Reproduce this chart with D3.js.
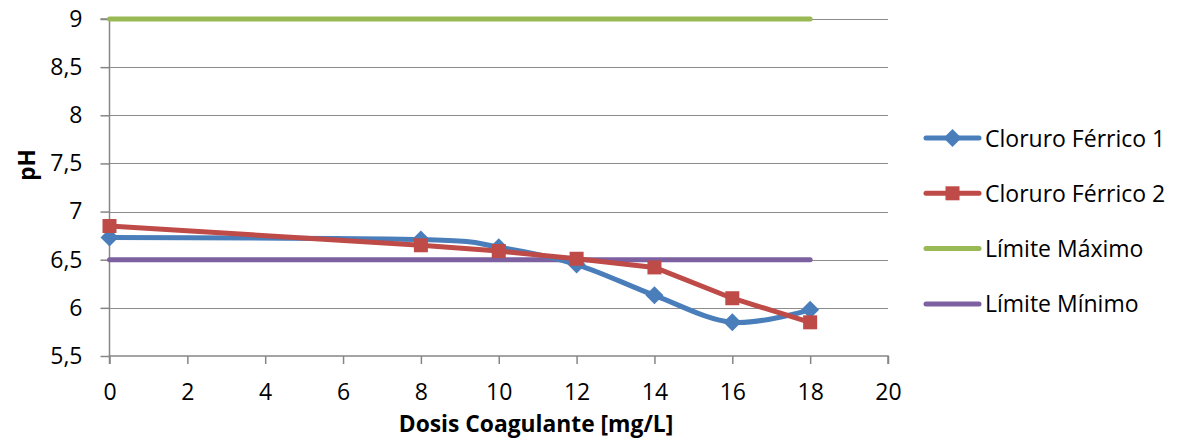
<!DOCTYPE html>
<html><head><meta charset="utf-8">
<script src="https://d3js.org/d3.v7.min.js"></script>
<style>body{margin:0;background:#fff}svg{display:block}text{font-family:"Open Sans",sans-serif;fill:#000}</style>
</head><body><svg id="c" width="1178" height="438"></svg>
<script>
const xTicks = [0,2,4,6,8,10,12,14,16,18,20];
const yTicks = [5.5,6,6.5,7,7.5,8,8.5,9];
const doses = [0,8,10,12,14,16,18];
const cloruro1 = [6.73,6.71,6.63,6.45,6.13,5.85,5.98];
const cloruro2 = [6.85,6.65,6.59,6.51,6.42,6.10,5.85];
const limMax = [9,9];
const limMin = [6.5,6.5];
const limX = [0,18];
const seriesNames = ["Cloruro Férrico 1","Cloruro Férrico 2","Límite Máximo","Límite Mínimo"];
const colors = ["#4a7ebb","#be4b48","#98b954","#7d60a0"];

const svg = d3.select("#c");
const x = d3.scaleLinear().domain([0,20]).range([109.5,888]);
const y = d3.scaleLinear().domain([5.5,9]).range([356,19]);
const fmt = d => String(d).replace(".",",");

// gridlines
svg.append("g").selectAll("line").data(yTicks.slice(1)).join("line")
  .attr("x1",x(0)).attr("x2",x(20)).attr("y1",d=>Math.round(y(d))+0.5).attr("y2",d=>Math.round(y(d))+0.5)
  .attr("stroke","#8c8c8c").attr("stroke-width",1.2);

// y axis
const ya = svg.append("g").attr("transform",`translate(${x(0)},0)`)
  .call(d3.axisLeft(y).tickValues(yTicks).tickFormat(fmt).tickSize(9).tickPadding(18));
// x axis
const xa = svg.append("g").attr("transform",`translate(0,${y(5.5)})`)
  .call(d3.axisBottom(x).tickValues(xTicks).tickFormat(fmt).tickSize(8).tickPadding(20));
[ya,xa].forEach(a=>{
  a.selectAll("path,line").attr("stroke","#868686").attr("stroke-width",1.5);
  a.selectAll("text").style("font-size","23px").style("font-family","'Open Sans',sans-serif").attr("fill","#000");
});
xa.selectAll("text").attr("dy",null).attr("y",400-356);
xa.select(".domain").attr("d",`M${x(0)},8V0H${x(20)}V8`);
ya.select(".domain").attr("d",`M-9,${y(9)}H0V${y(5.5)}`);

// limit lines
const straight = d3.line().x(d=>x(d[0])).y(d=>y(d[1]));
[[limMax,2],[limMin,3]].forEach(([v,i])=>{
  svg.append("path").attr("d",straight(limX.map((xx,j)=>[xx,v[j]])))
    .attr("fill","none").attr("stroke",colors[i]).attr("stroke-width",5).attr("stroke-linecap","round");
});

// series
const smooth = d3.line().x(d=>x(d[0])).y(d=>y(d[1])).curve(d3.curveCardinal.tension(0));
const s1 = doses.map((d,i)=>[d,cloruro1[i]]);
const s2 = doses.map((d,i)=>[d,cloruro2[i]]);
svg.append("path").attr("d",smooth(s1)).attr("fill","none").attr("stroke",colors[0]).attr("stroke-width",5).attr("stroke-linejoin","round");
svg.append("path").attr("d",straight(s2)).attr("fill","none").attr("stroke",colors[1]).attr("stroke-width",5).attr("stroke-linejoin","round");
const diamond = "M0,-9L9,0L0,9L-9,0Z";
svg.append("g").selectAll("path").data(s1).join("path")
  .attr("d",diamond).attr("transform",d=>`translate(${x(d[0])},${y(d[1])})`).attr("fill",colors[0]);
svg.append("g").selectAll("rect").data(s2).join("rect")
  .attr("x",d=>x(d[0])-7).attr("y",d=>y(d[1])-7).attr("width",14).attr("height",14).attr("fill",colors[1]);

// axis titles
svg.append("text").attr("transform","translate(35,165) rotate(-90)").attr("text-anchor","middle")
  .style("font-size","22.5px").style("font-weight","bold").text("pH");
svg.append("text").attr("x",536).attr("y",432).attr("text-anchor","middle")
  .style("font-size","22.8px").style("font-weight","bold").text("Dosis Coagulante [mg/L]");

// legend
const lg = svg.append("g");
seriesNames.forEach((n,i)=>{
  const ly = 138 + i*55.3;
  lg.append("line").attr("x1",926).attr("x2",979).attr("y1",ly).attr("y2",ly)
    .attr("stroke",colors[i]).attr("stroke-width",5).attr("stroke-linecap","round");
  if(i===0) lg.append("path").attr("d",diamond).attr("transform",`translate(952.5,${ly})`).attr("fill",colors[0]);
  if(i===1) lg.append("rect").attr("x",945.5).attr("y",ly-7).attr("width",14).attr("height",14).attr("fill",colors[1]);
  lg.append("text").attr("x",985).attr("y",ly+8.5).style("font-size","23px").text(n);
});
</script></body></html>
